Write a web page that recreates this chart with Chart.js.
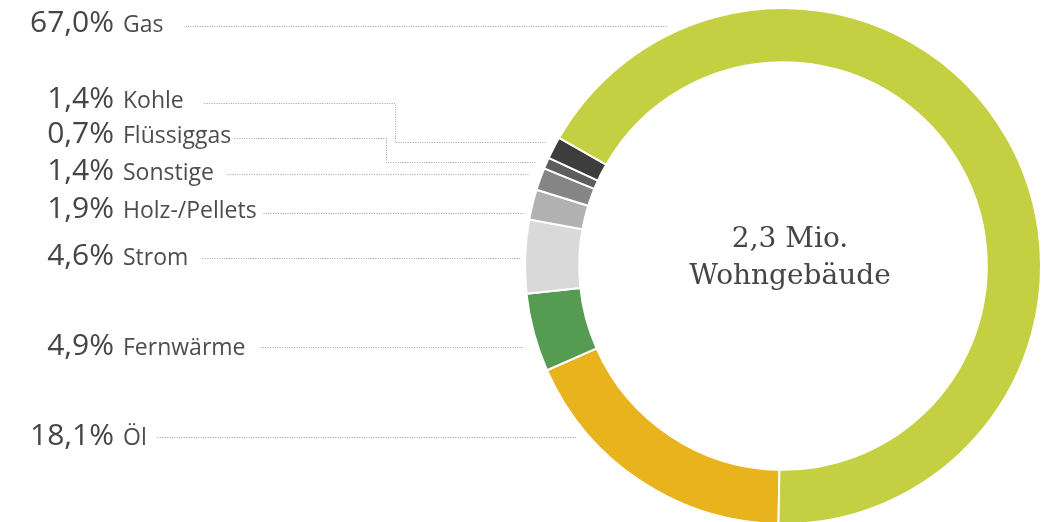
<!DOCTYPE html>
<html>
<head>
<meta charset="utf-8">
<script src="https://cdn.jsdelivr.net/npm/chart.js@4/dist/chart.umd.min.js"></script>
<style>
  html, body { margin: 0; padding: 0; background: #ffffff; }
  #wrap { width: 1056px; height: 522px; overflow: hidden; }
</style>
</head>
<body>
<div id="wrap"><canvas id="c" width="1056" height="522"></canvas></div>
<script>
// ---- data ----
const categories = ['Öl', 'Fernwärme', 'Strom', 'Holz-/Pellets', 'Sonstige', 'Flüssiggas', 'Kohle', 'Gas'];
const shares = [18.1, 4.9, 4.6, 1.9, 1.4, 0.7, 1.4, 67.0];
const centerLines = ['2,3 Mio.', 'Wohngebäude'];

// ---- styles / layout (not data) ----
const colors = ['#e8b31d', '#559b52', '#d9d9d9', '#b1b1b1', '#858585', '#5d5d5d', '#3d3d3d', '#c4d042'];
const labelBaseline = [445, 355, 265, 218, 180, 143, 108, 32];
const leaderPaths = [
  [[157, 437], [577, 437]],
  [[260, 347], [523, 347]],
  [[202, 258], [521, 258]],
  [[263, 213], [523, 213]],
  [[227, 174], [528, 174]],
  [[234, 138], [386, 138], [386, 162], [535, 162]],
  [[204, 103], [395, 103], [395, 142], [545, 142]],
  [[185, 26], [667, 26]]
];
const pctRight = 114;
const nameLeft = 123;

function fmtPct(v) { return v.toFixed(1).replace('.', ',') + '%'; }

const labelPlugin = {
  id: 'labels',
  afterDraw(chart) {
    const ctx = chart.ctx;
    const meta = chart.getDatasetMeta(0);
    const arc = meta.data[0];
    ctx.save();
    // leader lines
    ctx.strokeStyle = '#a0a0a0';
    ctx.lineWidth = 1;
    ctx.setLineDash([1, 1.4]);
    leaderPaths.forEach(p => {
      ctx.beginPath();
      p.forEach((pt, i) => {
        const x = pt[0] + 0.5, y = pt[1] + 0.5;
        if (i === 0) ctx.moveTo(x, y); else ctx.lineTo(x, y);
      });
      ctx.stroke();
    });
    ctx.setLineDash([]);
    // texts
    ctx.textBaseline = 'alphabetic';
    categories.forEach((cat, i) => {
      ctx.font = '400 30px "Open Sans", sans-serif';
      ctx.fillStyle = '#454545';
      ctx.textAlign = 'right';
      ctx.fillText(fmtPct(shares[i]), pctRight, labelBaseline[i]);
      ctx.font = '400 23px "Open Sans", sans-serif';
      ctx.fillStyle = '#4d4d4d';
      ctx.textAlign = 'left';
      ctx.fillText(cat, nameLeft, labelBaseline[i]);
    });
    // center text
    const cx = arc.x + 7, cy = arc.y;
    ctx.font = '400 28px "DejaVu Serif", serif';
    ctx.fillStyle = '#454545';
    ctx.textAlign = 'center';
    ctx.fillText(centerLines[0], cx, cy - 19);
    ctx.fillText(centerLines[1], cx, cy + 18);
    ctx.restore();
  }
};

new Chart(document.getElementById('c'), {
  type: 'doughnut',
  data: {
    labels: categories,
    datasets: [{
      data: shares,
      backgroundColor: colors,
      borderColor: '#ffffff',
      borderWidth: 2,
      hoverOffset: 0,
      clip: false
    }]
  },
  options: {
    responsive: false,
    animation: false,
    devicePixelRatio: 1,
    events: [],
    rotation: 181,
    radius: 258,
    cutout: '79%',
    layout: { padding: { left: 515, right: 5, top: 10, bottom: 0 } },
    plugins: { legend: { display: false }, tooltip: { enabled: false } }
  },
  plugins: [labelPlugin]
});
</script>
</body>
</html>
